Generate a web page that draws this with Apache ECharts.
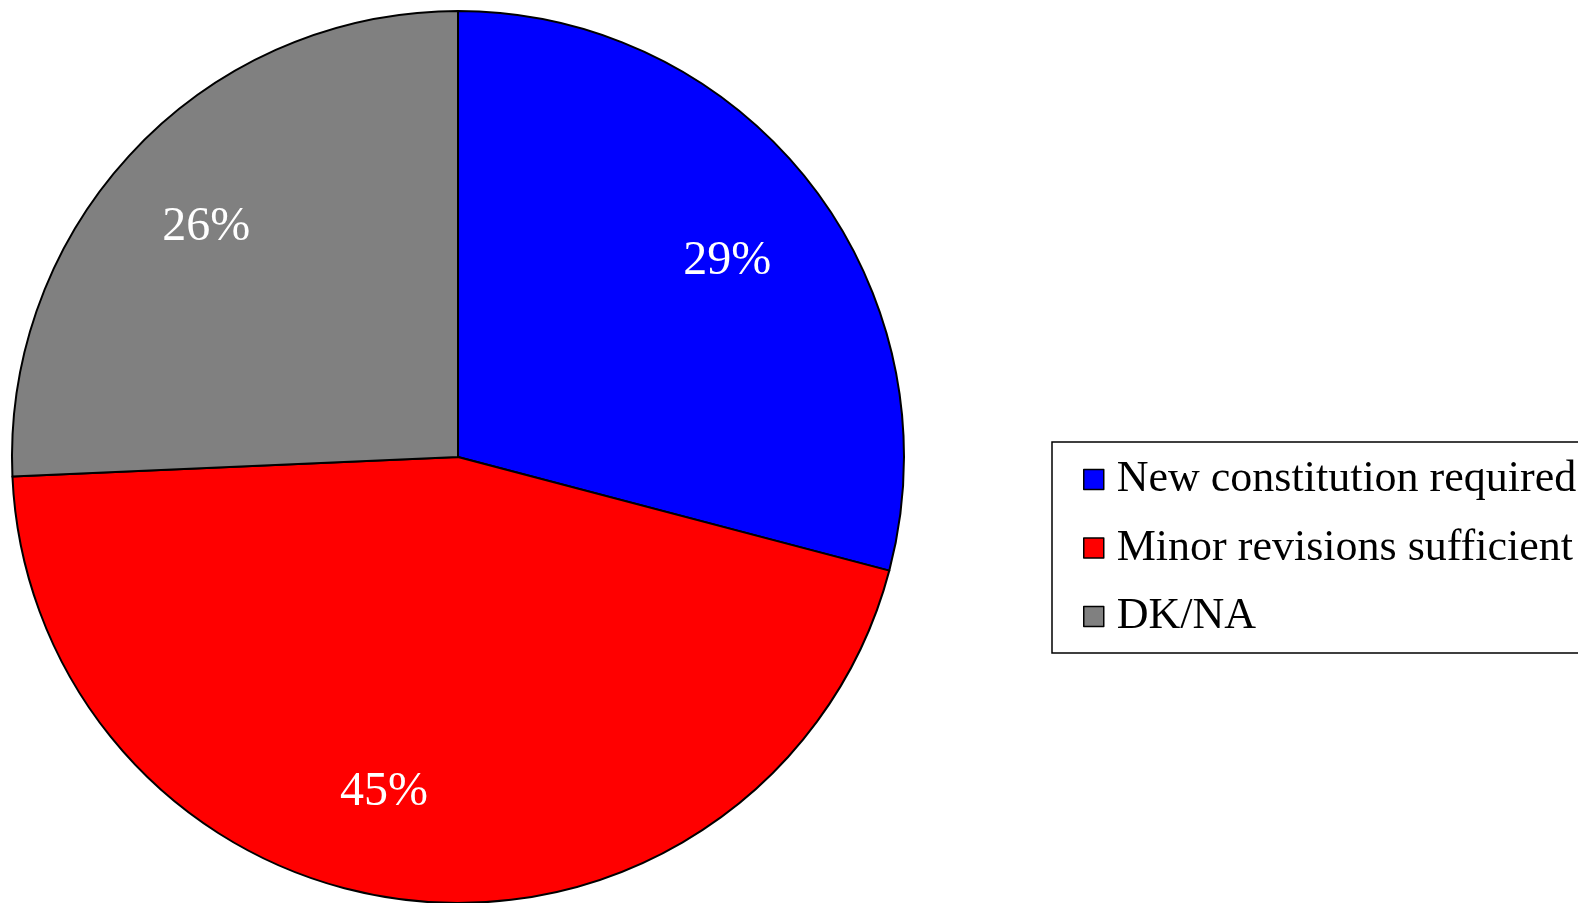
<!DOCTYPE html>
<html>
<head>
<meta charset="utf-8">
<style>
  html, body { margin: 0; padding: 0; background: #ffffff; }
  #chart { width: 1578px; height: 903px; }
</style>
<script src="https://cdn.jsdelivr.net/npm/echarts@6/dist/echarts.min.js"></script>
</head>
<body>
<div id="chart"></div>
<script>
const categories = ['New constitution required', 'Minor revisions sufficient', 'DK/NA'];
const values = [29.1, 45.2, 25.7];
const colors = ['#0000ff', '#ff0000', '#808080'];

const chart = echarts.init(document.getElementById('chart'), null, { renderer: 'canvas' });

const pieData = categories.map((name, i) => ({
  name: name,
  value: values[i],
  itemStyle: { color: colors[i] }
}));

const labelData = categories.map((name, i) => ({
  name: name,
  value: values[i]
}));

const labelShift = [{ dx: 2, dy: 10 }, { dx: -38, dy: 0 }, { dx: -8, dy: 4 }];

const option = {
  backgroundColor: '#ffffff',
  animation: false,
  legend: {
    orient: 'vertical',
    left: 1052,
    top: 442,
    padding: [15, 40, 14, 31],
    itemGap: 23.5,
    itemWidth: 20,
    itemHeight: 20,
    icon: 'rect',
    borderColor: '#000000',
    borderWidth: 1.5,
    backgroundColor: '#ffffff',
    data: categories,
    itemStyle: { borderColor: '#000000', borderWidth: 1.5 },
    textStyle: {
      fontFamily: '"Liberation Serif", "DejaVu Serif", serif',
      fontSize: 44,
      color: '#000000',
      lineHeight: 45,
      padding: [0, 0, 0, 8]
    }
  },
  series: [
    {
      type: 'pie',
      center: [458, 457],
      radius: [0, 446],
      startAngle: 90,
      clockwise: true,
      silent: true,
      data: pieData,
      label: { show: false },
      labelLine: { show: false },
      itemStyle: { borderColor: '#000000', borderWidth: 2 },
      emphasis: { disabled: true }
    },
    {
      type: 'pie',
      center: [458, 457],
      radius: [223, 446],
      startAngle: 90,
      clockwise: true,
      silent: true,
      data: labelData,
      itemStyle: { color: 'rgba(0,0,0,0)', borderWidth: 0 },
      label: {
        show: true,
        position: 'inside',
        formatter: (p) => Math.round(p.value) + '%',
        color: '#ffffff',
        fontFamily: '"Liberation Serif", "DejaVu Serif", serif',
        fontSize: 48
      },
      labelLayout: (p) => labelShift[p.dataIndex],
      labelLine: { show: false },
      emphasis: { disabled: true }
    }
  ]
};

chart.setOption(option);
</script>
</body>
</html>
